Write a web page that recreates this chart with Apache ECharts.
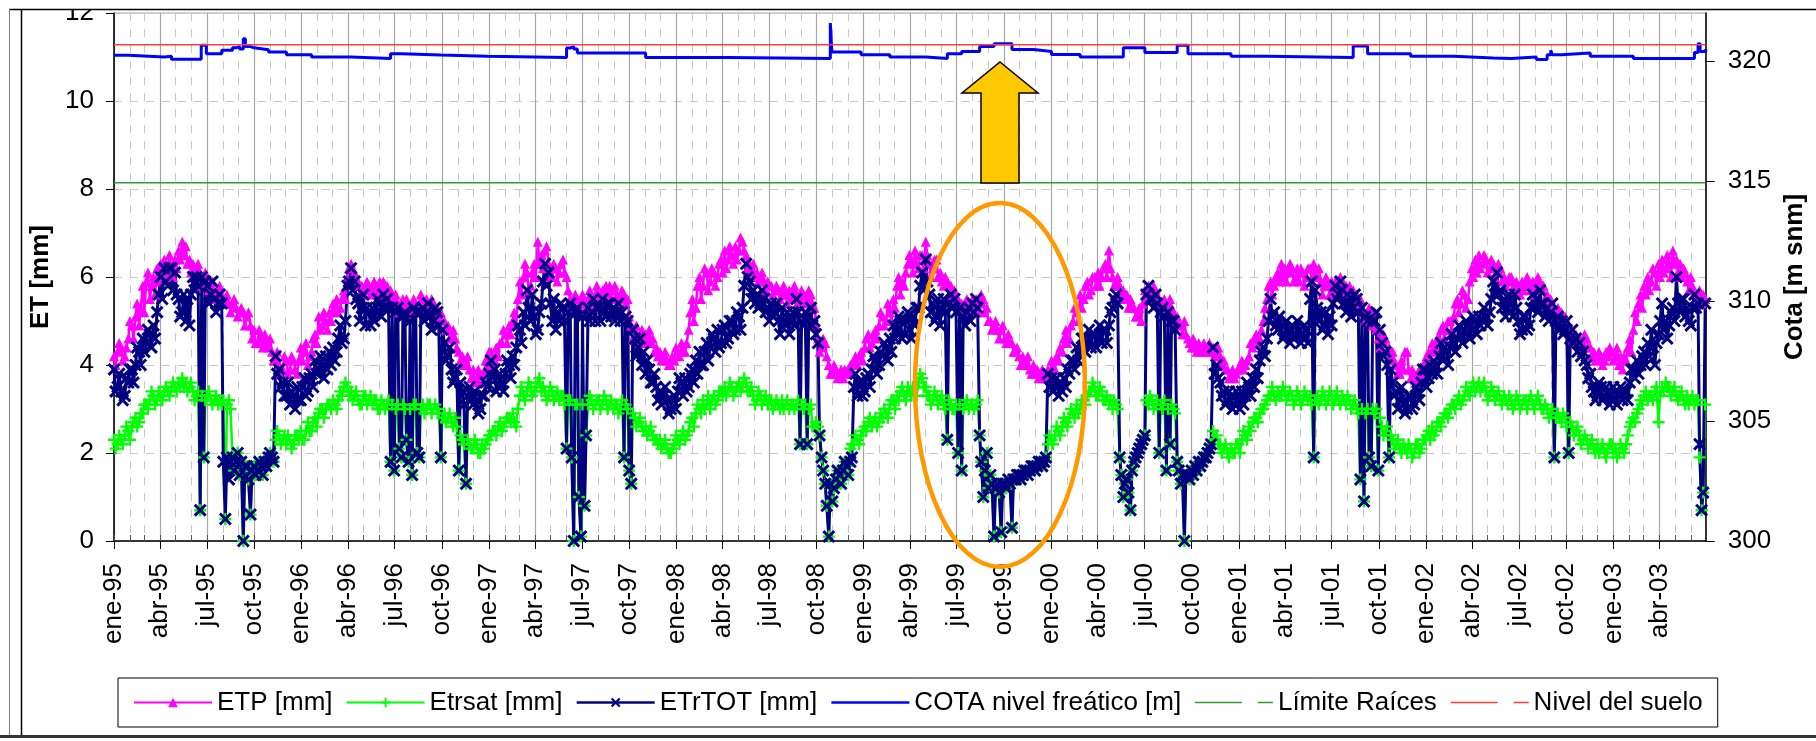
<!DOCTYPE html>
<html>
<head>
<meta charset="utf-8">
<script src="https://cdn.jsdelivr.net/npm/echarts@6/dist/echarts.min.js"></script>
<style>
html,body{margin:0;padding:0;background:#fff;}
#chart{width:1816px;height:741px;}
</style>
</head>
<body>
<div id="chart"></div>
<script>
// ---------- axis / category definitions ----------
const START_DATE = [1995, 0, 1];      // 1995-01-01
const END_DATE = [2003, 5, 30];       // 2003-06-30
const MONTH_LABELS = ['ene','feb','mar','abr','may','jun','jul','ago','sep','oct','nov','dic'];
const QUARTER_MONTHS = [0, 3, 6, 9];
const STEP_DAYS = 7;                  // weekly readings
const MID_OFFSET_DAYS = 3;            // mid-week readings

// ---------- series values: weekly readings from 1995-01-01 ----------
const ETP = [
4.2,4.3,4.4,4.2,4.6,4.9,5.1,4.9,5.8,5.9,
5.5,6.0,6.2,6.3,6.4,6.1,6.2,6.4,6.6,6.8,
6.7,6.4,6.3,6.2,6.1,5.9,6.0,5.8,5.7,5.7,
5.6,5.5,5.4,5.4,5.3,5.2,5.2,5.1,4.9,4.8,
4.5,4.6,4.7,4.4,4.3,4.1,4.0,3.9,4.1,3.9,
4.1,3.8,4.4,4.3,4.0,4.3,4.7,5.1,4.9,5.0,
5.2,5.4,5.5,5.3,5.7,6.0,6.3,6.1,5.9,5.8,
5.7,5.8,5.7,5.8,5.9,5.9,5.8,5.7,5.4,5.4,
5.4,5.3,5.4,5.3,5.4,5.4,5.5,5.5,5.4,5.4,
5.3,5.2,5.0,4.9,4.6,4.6,4.3,4.2,4.0,3.9,
3.9,3.7,3.6,3.8,4.0,4.3,4.1,4.2,4.5,4.7,
4.9,5.0,
4.9,5.9,6.0,6.1,5.8,6.3,6.8,6.5,6.6,6.3,
6.0,6.2,6.1,6.4,6.0,5.5,5.4,5.5,5.4,5.4,
5.5,5.5,5.6,5.5,5.7,5.8,5.8,5.7,5.6,5.5,
5.6,5.5,4.9,4.7,4.6,4.8,4.7,4.8,4.6,4.4,
4.3,4.2,4.1,4.0,4.1,4.3,4.5,4.3,4.8,5.5,
5.3,6.0,5.8,6.1,5.9,6.1,6.0,6.4,6.6,6.4,
6.5,6.7,6.6,6.8,6.5,6.3,6.3,6.1,6.0,5.9,
5.9,5.8,5.7,5.7,5.6,5.6,5.7,5.6,5.6,5.5,
5.6,5.5,5.6,5.3,4.6,4.4,4.5,4.0,3.8,3.9,
3.8,3.7,3.8,4.0,4.1,4.0,4.3,4.4,4.7,4.5,
4.8,4.9,5.1,5.0,5.2,5.5,5.8,5.6,5.8,6.3,
6.4,6.6,6.2,6.5,6.8,6.3,6.2,6.4,6.1,5.8,
5.9,5.8,5.7,5.5,5.4,5.3,5.4,5.5,5.5,5.4,
5.5,5.3,5.0,4.9,4.8,4.8,4.6,4.7,4.5,4.3,
4.2,4.2,4.0,3.9,4.0,3.9,3.8,3.7,3.9,4.1,
3.9,4.1,4.3,4.8,4.6,5.0,5.2,5.6,5.5,5.9,
5.7,6.0,6.1,6.0,6.3,6.6,6.0,5.9,5.8,5.7,
5.6,5.5,5.3,5.1,5.0,5.7,5.8,5.6,5.7,5.5,
5.3,5.4,5.5,5.2,5.1,4.9,5.0,4.6,4.4,4.4,
4.5,4.3,4.4,4.5,4.4,4.3,4.2,4.1,3.9,3.8,
3.7,3.9,4.1,4.0,4.2,4.4,4.7,4.6,5.0,5.5,
5.9,5.8,6.1,6.3,6.2,6.1,6.2,6.0,5.9,6.1,6.0,
6.2,6.3,6.0,5.9,5.8,5.8,5.9,5.9,5.8,5.9,
5.8,5.8,5.7,5.6,5.5,5.2,5.1,5.1,5.2,4.6,
4.5,4.6,4.4,4.3,4.0,3.8,3.9,4.3,3.7,3.8,
3.7,3.8,4.0,4.3,4.5,4.4,4.6,4.9,4.8,5.0,
5.1,5.5,5.4,5.6,5.5,6.2,6.4,6.5,6.3,6.4,
6.2,6.3,6.1,6.2,6.0,5.9,6.0,5.8,5.8,5.9,
5.8,5.9,5.9,5.8,5.9,5.8,5.6,5.5,5.3,5.3,
5.2,5.1,4.9,4.8,4.7,4.6,4.5,4.6,4.4,4.3,
4.1,4.2,4.1,4.2,4.3,4.2,4.0,3.9,4.1,4.6,
4.8,5.0,5.6,5.8,6.0,5.9,6.1,6.3,6.4,6.2,
6.3,6.6,6.4,6.3,6.2,5.9,6.0,5.6,5.5,5.4,5.5
];
// mid-week readings (3 days after each weekly reading)
const ETP_MID = [
4.0,4.5,4.1,4.4,5.0,4.6,5.4,5.3,5.2,6.1,
5.8,5.6,5.9,6.0,6.0,6.5,6.0,6.2,6.4,6.5,
6.3,6.1,6.0,6.3,5.8,6.1,5.7,5.9,5.5,5.8,
5.4,5.6,5.2,5.5,5.1,5.3,4.9,5.2,4.6,4.5,
4.8,4.4,4.5,4.6,4.1,4.3,3.8,4.2,3.8,4.2,
3.9,4.1,4.1,4.5,4.2,4.6,4.5,4.8,5.2,4.8,
5.0,5.2,5.2,5.5,5.5,6.2,6.0,5.8,5.6,5.6,
5.9,5.6,5.9,5.6,5.7,5.6,5.5,5.5,5.6,5.2,
5.5,5.5,5.2,5.5,5.2,5.6,5.3,5.3,5.5,5.2,
5.1,5.0,4.8,4.6,4.8,4.4,4.1,4.0,4.2,3.7,
3.6,3.9,3.8,4.1,4.3,4.0,4.4,4.5,4.8,4.5,
4.7,5.2,
5.5,5.6,6.3,5.7,6.1,6.0,6.3,6.2,6.7,6.0,
6.3,5.9,6.3,6.1,5.7,5.3,5.6,5.3,5.6,5.3,
5.7,5.3,5.8,5.4,5.5,5.6,5.5,5.8,5.4,5.7,
5.4,5.1,4.6,4.9,4.5,4.6,4.5,4.5,4.3,4.2,
4.1,4.3,4.0,4.2,4.4,4.2,4.3,4.5,5.2,5.0,
5.8,5.5,6.2,5.7,6.2,5.8,6.3,6.1,6.2,6.7,
6.3,6.4,6.9,6.6,6.2,6.1,6.0,5.9,6.1,5.7,
5.8,5.6,5.8,5.5,5.8,5.4,5.5,5.8,5.4,5.7,
5.4,5.7,5.4,4.9,4.3,4.6,4.2,3.8,4.0,3.7,
3.9,3.9,3.9,3.8,4.2,4.2,4.1,4.6,4.4,4.7,
4.6,5.2,4.9,5.4,5.0,5.3,6.0,5.9,6.1,6.5,
6.1,6.3,6.5,6.2,6.5,6.0,6.4,6.0,5.9,6.0,
5.6,5.6,5.5,5.3,5.2,5.5,5.2,5.3,5.2,5.6,
5.2,5.0,4.8,5.0,4.6,4.9,4.5,4.5,4.3,4.4,
4.0,4.1,4.2,3.8,3.8,3.7,3.9,3.8,3.7,3.9,
4.2,4.4,4.6,4.5,4.9,5.3,5.0,5.3,5.8,5.6,
6.0,5.8,5.8,6.2,6.0,6.2,5.8,6.0,5.6,5.5,
5.3,5.3,5.1,5.3,5.4,5.5,5.6,5.8,5.4,5.3,
5.5,5.2,5.3,5.0,4.9,4.7,4.7,4.5,4.6,4.3,
4.3,4.5,4.3,4.3,4.2,4.4,4.0,3.9,3.7,3.9,
3.8,4.0,3.9,4.1,4.5,4.6,4.5,4.8,5.3,5.8,
5.6,6.0,5.9,6.0,5.9,6.3,5.9,6.2,6.2,5.8,6.2,
5.9,6.0,6.2,5.6,6.0,5.6,5.7,5.6,6.0,5.6,
5.6,5.6,5.5,5.4,5.3,5.0,5.3,4.9,4.8,4.4,
4.7,4.3,4.2,4.1,3.8,4.1,4.3,3.9,3.9,3.6,
3.9,4.0,4.2,4.1,4.3,4.6,4.8,4.6,5.0,4.8,
5.4,5.2,5.7,5.3,5.9,6.0,6.1,6.2,6.5,6.1,
6.4,6.0,6.3,5.9,5.8,6.0,5.7,5.9,5.6,5.7,
6.0,5.7,5.6,6.0,5.7,5.5,5.4,5.3,5.1,5.1,
5.0,4.8,4.7,4.6,4.5,4.4,4.7,4.4,4.2,4.1,
4.3,4.0,4.3,4.4,4.1,4.4,4.2,4.2,4.4,4.3,
5.2,5.4,5.3,5.6,5.7,6.2,5.8,6.0,6.1,6.5,
6.0,6.3,6.1,6.0,6.1,5.7,5.8,5.4,5.7,5.6
];

const ETRSAT = [
2.3,2.2,2.3,2.4,2.5,2.6,2.8,2.7,2.9,3.1,
3.2,3.3,3.2,3.3,3.4,3.4,3.5,3.5,3.6,3.7,
3.6,3.5,3.4,3.3,0.7,1.9,3.3,3.2,3.2,3.1,
3.1,0.5,3.2,1.9,1.8,1.5,0.0,1.7,0.6,1.7,
1.6,1.7,1.8,1.9,1.9,2.3,2.4,2.3,2.2,2.3,
2.2,2.4,2.5,2.3,2.7,2.5,2.8,2.9,3.0,3.0,
3.1,3.2,3.0,3.4,3.5,3.5,3.4,3.3,3.2,3.1,
3.3,3.2,3.1,3.2,3.0,3.1,3.1,1.8,1.6,3.1,
1.9,3.0,1.8,1.5,3.1,1.9,3.1,3.0,3.1,3.0,
3.0,1.9,2.9,2.8,2.7,2.8,1.6,2.3,1.3,2.2,
2.1,2.2,2.0,2.1,2.3,2.4,2.5,2.6,2.5,2.7,
2.8,2.9,
2.6,3.3,3.3,3.4,3.5,3.4,3.6,3.4,3.4,3.3,
3.4,3.3,3.2,3.3,2.1,3.2,0.0,3.1,0.1,0.8,
3.1,3.2,3.1,3.2,3.1,3.2,3.1,3.0,3.1,3.0,
1.9,3.0,1.3,2.8,2.7,2.6,2.6,2.5,2.4,2.3,
2.3,2.2,2.1,2.0,2.2,2.3,2.4,2.3,2.5,2.8,
2.9,3.0,3.2,3.1,3.0,3.3,3.2,3.4,3.5,3.4,
3.5,3.4,3.6,3.5,3.6,3.4,3.3,3.2,3.3,3.2,
3.1,3.2,3.1,3.1,3.2,3.1,3.0,3.1,3.1,2.2,
3.0,2.2,3.1,2.6,2.6,1.9,1.3,0.1,0.9,1.4,
1.5,1.6,1.7,2.1,2.2,2.3,2.4,2.6,2.7,2.6,
2.8,2.7,2.8,2.9,3.1,3.2,3.3,3.4,3.3,3.5,
3.3,3.5,3.6,3.7,3.5,3.3,3.2,3.3,3.2,3.1,
2.3,3.1,3.0,2.0,1.6,3.1,3.0,3.1,3.1,2.4,
1.0,2.0,1.5,0.1,1.3,0.2,1.3,1.4,0.3,1.4,
1.5,1.5,1.6,1.6,1.7,1.7,1.8,1.8,2.2,2.3,
2.4,2.5,2.6,2.7,2.8,2.9,3.1,3.0,3.2,3.3,
3.4,3.5,3.3,3.4,3.2,3.1,3.0,3.1,1.9,1.0,
1.4,0.7,1.8,2.0,2.2,2.4,3.1,3.2,3.1,2.0,
3.0,1.6,2.2,3.0,1.8,1.3,0.0,1.5,1.6,1.7,
1.8,1.8,1.9,2.1,2.5,2.4,2.2,2.1,2.0,2.1,
2.0,2.2,2.3,2.4,2.6,2.7,2.8,2.9,3.0,3.2,
3.3,3.3,3.4,3.3,3.4,3.3,3.3,3.2,3.3,3.2,3.3,
3.3,1.9,3.3,3.2,3.3,3.2,3.3,3.2,3.2,3.3,
3.1,3.2,3.1,3.0,1.4,0.9,3.0,1.7,2.9,1.6,
2.6,2.5,1.9,2.3,2.2,2.1,2.2,2.0,2.1,2.0,
2.2,2.1,2.3,2.5,2.6,2.5,2.7,2.8,2.9,3.0,
3.1,3.2,3.1,3.3,3.4,3.5,3.4,3.6,3.5,3.4,
3.3,3.4,3.3,3.2,3.3,3.1,3.2,3.1,3.2,3.1,
3.2,3.2,3.1,3.2,3.1,3.0,3.0,2.9,1.9,2.9,
2.7,2.8,2.0,2.6,2.5,2.4,2.3,2.3,2.2,2.1,
2.2,2.1,2.0,2.1,2.2,2.1,2.0,2.1,2.2,2.6,
2.8,2.9,3.2,3.3,3.2,3.3,3.4,2.7,3.5,3.6,
3.5,3.4,3.3,3.3,3.2,3.3,3.2,3.1,3.2,0.7,3.1
];
const ETRSAT_MID = [
2.1,2.4,2.2,2.6,2.3,2.7,2.6,2.9,3.1,3.0,
3.4,3.1,3.4,3.2,3.5,3.3,3.6,3.4,3.5,3.5,
3.4,3.6,3.2,3.4,3.3,3.2,3.4,3.1,3.3,3.2,
3.2,3.1,3.0,1.6,2.0,1.8,1.7,1.4,1.6,1.5,
1.8,1.5,1.7,2.0,1.8,2.5,2.2,2.4,2.4,2.1,
2.4,2.3,2.3,2.5,2.5,2.7,2.6,3.0,2.8,3.1,
3.0,3.1,3.2,3.3,3.6,3.3,3.2,3.4,3.1,3.3,
3.1,3.3,3.2,3.0,3.2,3.0,3.2,3.1,3.0,2.1,
3.1,2.3,3.0,3.1,2.0,3.0,2.9,3.1,2.9,3.1,
2.9,2.8,2.7,2.9,2.6,2.6,2.4,2.2,2.3,2.1,
2.3,2.0,2.2,2.2,2.4,2.5,2.4,2.7,2.6,2.8,
2.7,2.7,
3.0,3.5,3.2,3.6,3.3,3.5,3.7,3.5,3.2,3.5,
3.2,3.4,3.3,3.1,3.2,1.9,3.1,1.0,3.1,2.4,
3.3,3.0,3.2,3.0,3.3,3.0,3.2,3.1,2.9,3.2,
3.1,1.6,2.9,2.6,2.8,2.5,2.4,2.6,2.3,2.2,
2.1,2.3,2.0,2.1,2.4,2.2,2.5,2.4,2.7,2.6,
3.1,2.9,3.0,3.3,3.2,3.1,3.4,3.3,3.3,3.6,
3.3,3.5,3.4,3.7,3.4,3.5,3.1,3.4,3.1,3.3,
3.2,3.0,3.2,3.0,3.0,3.2,3.1,3.0,3.2,3.1,
3.1,3.0,2.6,2.7,2.4,1.6,0.8,1.3,1.2,1.6,
1.3,1.8,1.5,2.2,2.4,2.2,2.5,2.5,2.8,2.7,
2.6,2.9,3.0,2.8,3.2,3.0,3.2,3.5,3.2,3.4,
3.5,3.3,3.8,3.5,3.3,3.1,3.4,3.1,3.3,3.0,
3.2,3.0,3.1,3.1,3.0,3.2,3.1,3.0,3.2,1.8,
1.6,1.2,1.3,1.2,1.1,1.3,1.2,1.3,1.4,1.5,
1.4,1.6,1.5,1.7,1.6,1.8,1.7,1.9,2.4,2.2,
2.6,2.4,2.8,2.6,3.0,2.8,2.9,3.2,3.1,3.4,
3.6,3.3,3.5,3.2,3.3,3.2,3.2,3.0,1.5,1.3,
1.1,1.6,1.9,2.1,2.3,3.2,3.3,3.0,3.2,3.1,
3.2,3.0,3.1,2.9,1.6,1.5,1.5,1.4,1.5,1.6,
1.7,1.9,2.0,2.2,2.3,2.2,2.0,2.2,1.9,2.0,
2.2,2.0,2.5,2.3,2.5,2.8,2.7,3.0,3.1,3.3,
3.5,3.2,3.3,3.5,3.2,3.4,3.1,3.4,3.1,3.4,3.2,
3.1,3.2,3.1,3.4,3.1,3.4,3.1,3.4,3.1,3.2,
3.3,3.0,3.2,2.9,3.0,2.9,1.9,3.0,3.0,2.8,
2.4,2.6,2.4,2.1,2.3,2.0,2.1,2.2,1.9,2.2,
2.0,2.3,2.4,2.3,2.4,2.7,2.6,2.9,2.8,3.1,
3.0,3.3,3.2,3.5,3.3,3.6,3.5,3.4,3.6,3.2,
3.5,3.2,3.4,3.1,3.2,3.3,3.0,3.3,3.0,3.2,
3.0,3.3,3.0,3.3,3.0,3.1,2.8,3.0,2.8,2.8,
2.9,2.6,2.7,2.4,2.6,2.2,2.4,2.1,2.3,2.0,
2.0,2.2,1.9,2.2,2.0,1.9,2.2,2.0,2.4,2.7,
2.7,3.0,3.1,3.4,3.3,3.2,3.5,3.3,3.4,3.5,
3.3,3.5,3.2,3.4,3.1,3.1,3.3,3.2,1.9,1.1
];

const ETRTOT = [
3.9,3.5,3.4,3.3,3.6,3.9,4.0,4.3,4.6,4.5,
4.7,4.9,5.2,6.0,6.2,5.8,6.2,6.1,5.5,5.2,
5.0,4.9,6.0,6.0,0.7,1.9,5.8,5.6,5.5,5.4,
5.4,0.5,1.4,1.9,1.8,1.5,0.0,1.7,0.6,1.7,
1.6,1.7,1.8,1.9,1.9,4.2,3.9,3.6,3.3,3.1,
3.3,3.5,3.2,3.7,3.4,3.8,4.1,3.9,4.0,4.2,
4.3,4.4,4.3,4.9,4.6,5.8,6.2,5.9,5.4,5.3,
4.9,5.2,5.3,5.2,5.4,5.6,5.5,1.8,1.6,5.3,
1.9,5.2,1.8,1.5,5.2,1.9,5.3,5.2,5.1,5.0,
5.2,1.9,4.5,4.2,3.9,3.7,1.6,3.4,1.3,3.5,
3.1,3.2,3.0,3.3,3.5,4.1,3.9,3.5,3.6,3.8,
4.0,4.2,
4.4,4.8,5.2,5.7,5.0,5.1,4.8,5.4,6.3,6.1,
5.0,4.8,5.0,5.3,2.1,5.4,0.0,5.3,0.1,0.8,
5.3,5.2,5.0,5.3,5.5,5.1,5.4,5.3,5.2,5.0,
1.9,5.0,1.3,4.6,4.4,4.0,3.8,3.9,3.6,3.5,
3.4,3.3,3.2,3.0,3.3,3.4,3.6,3.7,3.5,3.9,
4.1,4.3,4.0,4.5,4.4,4.6,4.8,4.5,4.9,4.6,
5.0,4.8,5.1,5.3,6.3,5.9,5.7,5.6,5.4,5.5,
5.3,5.4,5.2,5.0,5.3,4.9,4.7,5.2,5.5,2.2,
4.9,2.2,5.3,5.0,4.5,1.9,1.3,0.1,0.9,1.4,
1.5,1.6,1.7,1.8,3.5,3.3,3.6,3.4,3.8,3.9,
4.1,4.0,4.2,4.4,4.6,4.9,4.8,5.0,4.7,5.2,
4.6,4.9,5.3,6.1,6.4,5.6,5.4,5.1,4.9,5.5,
2.3,5.6,5.5,2.0,1.6,4.9,5.3,5.4,5.5,2.4,
1.0,2.0,1.5,0.1,1.3,0.2,1.3,1.4,0.3,1.4,
1.5,1.5,1.6,1.6,1.7,1.7,1.8,1.8,3.8,3.7,
3.5,3.3,3.4,3.5,3.8,4.1,4.4,4.3,4.6,4.5,
4.4,4.7,4.6,4.5,4.8,4.9,5.3,5.6,1.9,1.0,
1.4,0.7,1.8,2.0,2.2,2.4,5.8,5.5,5.6,2.0,
5.3,1.6,2.2,5.0,1.8,1.3,0.0,1.5,1.6,1.7,
1.8,1.8,1.9,2.1,4.4,4.0,3.6,3.4,3.2,3.3,
3.1,3.2,3.4,3.3,3.5,3.7,3.9,4.1,4.4,4.6,
5.5,5.2,4.8,4.9,4.7,4.8,4.9,4.7,4.8,4.6,4.8,
5.5,1.9,5.3,5.2,4.9,4.7,4.9,5.8,5.6,5.7,
5.2,5.4,5.3,5.5,1.4,0.9,5.0,1.7,5.0,1.6,
4.5,4.3,1.9,3.6,3.4,3.2,3.1,3.0,3.3,3.1,
3.4,3.6,3.9,3.7,3.8,4.0,4.2,4.1,4.3,4.4,
4.5,4.6,4.7,4.8,4.9,4.8,5.0,5.1,5.0,5.1,
5.2,5.9,6.1,5.7,5.5,5.3,5.4,5.6,5.0,4.8,
5.1,4.9,5.6,5.5,5.7,5.4,5.3,5.2,1.9,5.1,
5.0,4.8,2.0,4.8,4.6,4.5,4.3,4.0,3.8,3.4,
3.3,3.5,3.3,3.4,3.2,3.4,3.3,3.2,3.4,3.6,
3.9,4.1,4.0,4.3,4.5,4.8,4.0,4.7,5.4,5.0,
4.9,5.3,6.0,5.2,5.5,5.3,4.9,5.6,5.4,0.7,5.4
];
const ETRTOT_MID = [
3.4,3.8,3.2,3.7,3.9,3.6,4.4,4.0,4.3,4.8,
4.4,4.6,5.6,5.5,5.9,6.2,5.7,5.6,5.1,5.6,
5.5,5.6,5.7,5.8,6.0,5.9,5.4,5.9,5.2,5.6,
1.8,1.9,1.8,1.6,2.0,1.8,1.7,1.4,1.6,1.5,
1.8,1.5,1.7,2.0,1.8,3.8,3.5,3.3,3.6,3.4,
3.0,3.2,3.5,3.3,3.7,3.5,3.8,4.2,3.7,3.9,
4.0,4.1,4.6,4.5,5.0,5.9,5.7,5.5,5.0,5.6,
5.3,4.9,5.0,5.5,5.1,5.3,5.3,5.3,5.2,2.1,
5.1,2.3,5.0,5.3,2.0,5.2,5.0,5.4,4.8,5.3,
4.9,4.8,4.1,4.4,3.6,3.9,3.6,3.1,3.3,3.2,
3.4,2.9,3.3,3.6,3.8,3.7,3.4,3.8,3.4,4.1,
3.7,4.0,
4.9,4.5,4.9,5.3,5.6,4.7,5.2,5.9,5.8,5.4,
5.5,5.2,5.4,5.0,5.2,1.9,5.2,1.0,5.1,2.4,
5.0,5.5,5.3,5.0,5.2,5.4,5.1,5.0,5.4,5.2,
5.1,1.6,4.8,4.2,4.6,4.3,4.1,3.6,3.8,3.2,
3.1,3.5,2.9,3.2,3.0,3.7,3.3,3.4,3.8,3.6,
3.8,4.0,4.3,4.1,4.7,4.3,4.4,4.8,4.5,5.0,
4.7,5.2,4.8,5.8,6.0,5.5,5.4,5.3,5.7,5.2,
5.0,5.1,5.4,4.7,5.0,5.2,5.0,4.9,5.2,5.0,
5.2,5.1,4.9,4.7,2.4,1.6,0.8,1.3,1.2,1.6,
1.3,1.8,1.5,1.9,3.8,3.6,3.3,3.7,3.5,4.2,
3.8,4.3,4.5,4.1,4.3,4.6,5.1,4.6,5.0,4.8,
5.1,5.3,5.8,5.7,5.9,5.2,5.0,5.5,5.3,5.2,
5.4,5.3,5.2,5.3,5.1,5.2,5.0,5.2,5.3,1.8,
1.6,1.2,1.3,1.2,1.1,1.3,1.2,1.3,1.4,1.5,
1.4,1.6,1.5,1.7,1.6,1.8,1.7,1.9,3.5,3.4,
3.7,3.6,3.7,3.9,4.1,3.9,4.1,4.6,4.3,4.8,
4.7,4.4,4.9,4.8,4.5,5.2,5.5,5.4,1.5,1.3,
1.1,1.6,1.9,2.1,2.3,5.6,5.5,5.3,5.4,5.2,
5.1,5.2,5.0,4.8,1.6,1.5,1.5,1.4,1.5,1.6,
1.7,1.9,2.0,2.2,3.8,3.7,3.3,3.1,3.4,3.0,
3.4,3.0,3.1,3.6,3.3,3.5,3.7,4.3,4.2,5.0,
5.1,4.9,5.1,4.6,5.0,4.5,4.6,5.0,4.5,4.9,4.5,
5.9,5.7,5.0,4.8,5.2,5.1,5.4,5.5,5.9,5.4,
5.6,5.1,5.6,5.2,5.3,5.1,1.9,5.0,5.2,4.8,
4.2,4.0,3.9,3.3,3.0,3.5,2.9,3.3,3.0,3.5,
3.2,3.9,3.5,4.0,4.1,3.8,4.5,4.4,4.0,4.7,
4.3,4.9,4.5,5.0,4.6,5.1,4.7,4.9,5.3,4.9,
5.5,5.6,5.6,5.3,5.1,5.6,5.1,5.3,4.7,5.1,
4.8,5.3,5.3,5.2,5.4,5.1,5.0,5.4,5.0,4.8,
4.7,5.0,4.6,4.5,4.3,4.2,4.1,3.7,3.5,3.2,
3.6,3.2,3.5,3.1,3.5,3.1,3.5,3.4,3.2,3.9,
3.7,3.8,4.2,4.0,4.2,4.4,4.5,5.0,4.8,4.6,
5.2,5.0,5.4,5.5,5.1,5.0,5.3,5.3,2.2,1.1
];

// water table level: [day since 1995-01-01, level m snm] at each change
const COTA_DAY = [0,28,98,112,170,180,210,231,238,245,252,256,266,273,301,336,385,462,539,560,637,728,
882,889,896,903,1036,1197,1396,1399,1456,1512,1582,1624,1652,1687,1715,1750,1792,1827,1883,1967,
2009,2072,2093,2177,2247,2415,2443,2527,2611,2688,2723,2772,2793,2800,2803,2821,2877,2961,3080,3087,3091,3102];
const COTA_LEVEL = [320.24,320.17,320.2,320.07,320.66,320.3,320.45,320.55,320.6,320.5,320.93,320.6,320.55,320.47,320.37,320.26,320.17,320.1,320.3,320.25,320.2,320.15,
320.54,320.6,320.5,320.33,320.15,320.1,321.58,320.37,320.26,320.17,320.1,320.3,320.4,320.6,320.72,320.48,320.4,320.27,320.17,320.55,
320.35,320.66,320.3,320.2,320.15,320.62,320.3,320.2,320.12,320.1,320.17,320.06,320.26,320.45,320.26,320.33,320.2,320.1,320.35,320.72,320.4,320.5];

const LIMITE_RAICES = 314.93;
const NIVEL_SUELO = 320.68;

const LEFT_TICKS = [0, 12, 2];       // min, max, interval
const RIGHT_TICKS = [300, 305, 310, 315, 320];

// ---------- build categories ----------
const DATES = [], QFLAG = [], MFLAG = [];
{
  const t0 = Date.UTC(START_DATE[0], START_DATE[1], START_DATE[2]);
  const t1 = Date.UTC(END_DATE[0], END_DATE[1], END_DATE[2]);
  for (let t = t0; t <= t1; t += 86400000) {
    const d = new Date(t);
    const m = d.getUTCMonth(), day = d.getUTCDate();
    DATES.push(d.getUTCFullYear() + '-' + String(m + 1).padStart(2, '0') + '-' + String(day).padStart(2, '0'));
    QFLAG.push(day === 1 && QUARTER_MONTHS.indexOf(m) >= 0);
    MFLAG.push(day === 1);
  }
}
const LAST = DATES.length - 1;
function readings(weeklyVals, midVals) {
  const out = [];
  weeklyVals.forEach((v, k) => {
    out.push([k * STEP_DAYS, v]);
    const dMid = k * STEP_DAYS + MID_OFFSET_DAYS;
    if (k < midVals.length && dMid <= LAST) out.push([dMid, midVals[k]]);
  });
  return out;
}
const FONT = "'Liberation Sans', Arial, sans-serif";

const plusPath = 'path://M4,0L6,0L6,4L10,4L10,6L6,6L6,10L4,10L4,6L0,6L0,4L4,4Z';
const crossPath = 'path://M1.6,0L5,3.4L8.4,0L10,1.6L6.6,5L10,8.4L8.4,10L5,6.6L1.6,10L0,8.4L3.4,5L0,1.6Z';
const noSymbol = {color: 'rgba(0,0,0,0)', opacity: 0, borderWidth: 0};

const chart = echarts.init(document.getElementById('chart'), null, {renderer: 'canvas'});
chart.setOption({
  animation: false,
  backgroundColor: '#fff',
  textStyle: {fontFamily: FONT},
  grid: {left: 114, right: 103, top: 11, bottom: 200, show: true, borderColor: '#A0A0A0', borderWidth: 1},
  legend: {
    top: 678, left: 118, orient: 'horizontal',
    itemWidth: 78, itemHeight: 12, itemGap: 13,
    padding: [10, 15], borderColor: '#000', borderWidth: 1,
    textStyle: {fontSize: 26, color: '#000', fontFamily: FONT, lineHeight: 29},
    data: [
      {name: 'ETP [mm]', lineStyle: {width: 2}},
      {name: 'Etrsat [mm]', lineStyle: {width: 2}},
      {name: 'ETrTOT [mm]', lineStyle: {width: 2.5}},
      {name: 'COTA nivel freático [m]', itemStyle: noSymbol, lineStyle: {width: 2.5}},
      {name: 'Límite Raíces', itemStyle: noSymbol, lineStyle: {type: [47, 16], color: '#339933', width: 1.5}},
      {name: 'Nivel del suelo', itemStyle: noSymbol, lineStyle: {type: [47, 16], color: '#FF3B3B', width: 1.5}}
    ]
  },
  xAxis: [{
    type: 'category', data: DATES, boundaryGap: false, position: 'bottom',
    axisLine: {lineStyle: {color: '#000', width: 1.5}},
    axisTick: {interval: i => QFLAG[i], length: 8, lineStyle: {color: '#000'}},
    axisLabel: {
      interval: i => QFLAG[i], rotate: 90, margin: 22, fontSize: 26, color: '#000', fontFamily: FONT,
      formatter: v => MONTH_LABELS[+v.slice(5, 7) - 1] + '-' + v.slice(2, 4)
    },
    splitLine: {show: true, interval: i => QFLAG[i], lineStyle: {color: '#A6A6A6', width: 1.2}}
  }, {
    type: 'category', data: DATES, boundaryGap: false, position: 'bottom',
    axisLine: {show: false},
    axisTick: {show: true, inside: true, interval: i => MFLAG[i], length: 6, lineStyle: {color: '#555'}},
    axisLabel: {show: false},
    splitLine: {show: true, interval: i => MFLAG[i] && !QFLAG[i], lineStyle: {color: '#C8C8C8', type: [8, 8]}}
  }],
  yAxis: [{
    type: 'value', min: LEFT_TICKS[0], max: LEFT_TICKS[1], interval: LEFT_TICKS[2],
    axisLine: {show: true, lineStyle: {color: '#000', width: 1.5}},
    axisTick: {show: true, length: 8, lineStyle: {color: '#000'}},
    axisLabel: {fontSize: 26, margin: 20, color: '#000', fontFamily: FONT},
    splitLine: {show: true, lineStyle: {color: '#C8C8C8', type: [8, 8]}},
    name: 'ET [mm]', nameLocation: 'middle', nameRotate: 90, nameGap: 57,
    nameTextStyle: {fontSize: 26, fontWeight: 'bold', color: '#000', fontFamily: FONT}
  }, {
    type: 'value', position: 'right', min: 300, max: 322, interval: 5,
    axisLine: {show: true, lineStyle: {color: '#000', width: 1.5}},
    axisTick: {show: true, length: 9, lineStyle: {color: '#000'}, customValues: RIGHT_TICKS},
    axisLabel: {fontSize: 26, margin: 22, color: '#000', fontFamily: FONT, customValues: RIGHT_TICKS},
    splitLine: {show: false},
    name: 'Cota [m snm]', nameLocation: 'middle', nameRotate: 90, nameGap: 68,
    nameTextStyle: {fontSize: 26, fontWeight: 'bold', color: '#000', fontFamily: FONT}
  }],
  series: [{
    name: 'ETP [mm]', type: 'line', xAxisIndex: 0, yAxisIndex: 0, data: readings(ETP, ETP_MID),
    symbol: 'triangle', symbolSize: 10, showSymbol: true, showAllSymbol: true,
    lineStyle: {color: '#FF00FF', width: 2.5}, itemStyle: {color: '#FF00FF'}, emphasis: {disabled: true}
  }, {
    name: 'Etrsat [mm]', type: 'line', xAxisIndex: 0, yAxisIndex: 0, data: readings(ETRSAT, ETRSAT_MID),
    symbol: plusPath, symbolSize: 12, showSymbol: true, showAllSymbol: true,
    lineStyle: {color: '#00FF00', width: 2.5}, itemStyle: {color: '#00FF00'}, emphasis: {disabled: true}
  }, {
    name: 'ETrTOT [mm]', type: 'line', xAxisIndex: 0, yAxisIndex: 0, data: readings(ETRTOT, ETRTOT_MID),
    symbol: crossPath, symbolSize: 13, showSymbol: true, showAllSymbol: true,
    lineStyle: {color: '#000080', width: 3}, itemStyle: {color: '#000080'}, emphasis: {disabled: true}
  }, {
    name: 'COTA nivel freático [m]', type: 'line', xAxisIndex: 0, yAxisIndex: 1,
    data: COTA_DAY.map((d, i) => [d, COTA_LEVEL[i]]), step: 'end',
    symbol: 'none', lineStyle: {color: '#0000FF', width: 3}, itemStyle: {color: '#0000FF'}, emphasis: {disabled: true}
  }, {
    name: 'Límite Raíces', type: 'line', xAxisIndex: 0, yAxisIndex: 1,
    data: [[0, LIMITE_RAICES], [LAST, LIMITE_RAICES]],
    symbol: 'none', lineStyle: {color: '#339933', width: 1.5}, itemStyle: {color: '#339933'}, emphasis: {disabled: true}
  }, {
    name: 'Nivel del suelo', type: 'line', xAxisIndex: 0, yAxisIndex: 1,
    data: [[0, NIVEL_SUELO], [LAST, NIVEL_SUELO]],
    symbol: 'none', lineStyle: {color: '#FF3B3B', width: 1.5}, itemStyle: {color: '#FF3B3B'}, emphasis: {disabled: true}
  }],
  graphic: [
    {type: 'rect', z: 100, shape: {x: 0, y: 0, width: 1816, height: 9}, style: {fill: '#fff'}},
    {type: 'line', z: 101, shape: {x1: 9, y1: 9.5, x2: 1816, y2: 9.5}, style: {stroke: '#000', lineWidth: 1.5}},
    {type: 'line', z: 101, shape: {x1: 9.5, y1: 9, x2: 9.5, y2: 736}, style: {stroke: '#808080', lineWidth: 1}},
    {type: 'line', z: 101, shape: {x1: 21.5, y1: 9, x2: 21.5, y2: 736}, style: {stroke: '#000', lineWidth: 1.5}},
    {type: 'line', z: 101, shape: {x1: 0, y1: 736.5, x2: 1816, y2: 736.5}, style: {stroke: '#333', lineWidth: 3}},
    {type: 'ellipse', z: 102, shape: {cx: 1000, cy: 385, rx: 85, ry: 182}, style: {fill: 'none', stroke: '#FF9900', lineWidth: 4.5}},
    {type: 'polygon', z: 102, shape: {points: [[1000, 62], [1038, 93], [1019, 93], [1019, 183], [981, 183], [981, 93], [962, 93]]},
      style: {fill: '#FFC800', stroke: '#000', lineWidth: 1.5}}
  ]
});
</script>
</body>
</html>
